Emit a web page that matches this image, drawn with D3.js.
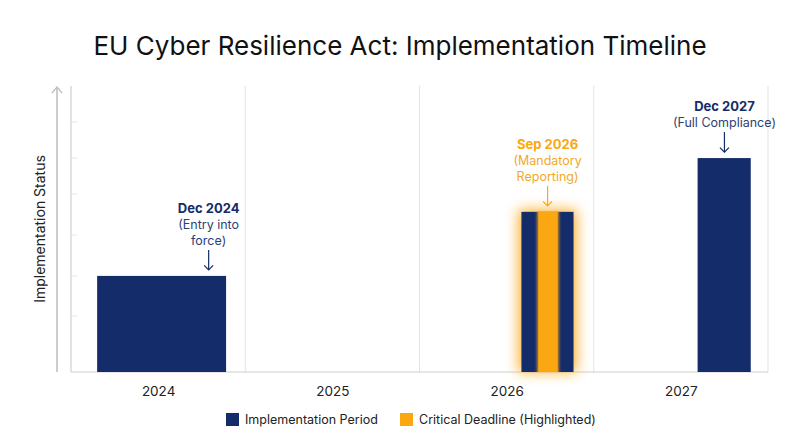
<!DOCTYPE html>
<meta charset="utf-8" />
<script src="https://d3js.org/d3.v7.min.js"></script>
<style>
	body { margin: 0; background: #fff; }
	text { font-family: Inter, "Noto Sans", sans-serif; }
</style>
<div id="chart"></div>
<script>
	// years shown on the x axis
	var years = [2024, 2025, 2026, 2027];
	// bars: start / end in fractional years, height in % of status
	var barNames = ["Dec 2024", "Sep 2026", "Dec 2027"];
	var barStart = [2024.15, 2026.585, 2027.596];
	var barEnd = [2024.89, 2026.884, 2027.901];
	var barValue = [33.6, 56, 74.8];
	var barMark = [2024.79, 2026.735, 2027.75]; // where the arrow points
	var barNotes = [["(Entry into", "force)"], ["(Mandatory", "Reporting)"], ["(Full Compliance)"]];
	var barCritical = [false, true, false];
	// highlighted critical slice inside the 2026 bar
	var critStart = 2026.677, critEnd = 2026.798;
	// faint ticks on the y axis
	var yTicks = [19.6, 33.6, 47.9, 62.2, 74.8, 87.4];

	var navy = "#142c69", orange = "#fba712";
	var W = 800, H = 447;
	var margin = { top: 86, right: 32, bottom: 75, left: 71 };
	var width = W - margin.left - margin.right,
		height = H - margin.top - margin.bottom;

	var svg = d3.select("#chart").append("svg")
		.attr("width", W).attr("height", H);

	var defs = svg.append("defs");
	var glow = defs.append("filter").attr("id", "glow")
		.attr("x", "-80%").attr("y", "-30%").attr("width", "260%").attr("height", "160%");
	glow.append("feGaussianBlur").attr("stdDeviation", 6.5);
	var soft = defs.append("filter").attr("id", "soft")
		.attr("x", "-50%").attr("y", "-5%").attr("width", "200%").attr("height", "110%");
	soft.append("feGaussianBlur").attr("stdDeviation", 1.6);
	defs.append("clipPath").attr("id", "barclip").append("rect");

	// title
	svg.append("text")
		.attr("x", W / 2).attr("y", 55)
		.attr("text-anchor", "middle")
		.attr("font-size", 26).attr("font-weight", 400)
		.attr("fill", "#111")
		.text("EU Cyber Resilience Act: Implementation Timeline");

	var g = svg.append("g")
		.attr("transform", "translate(" + margin.left + "," + margin.top + ")");

	var x = d3.scaleLinear().domain([2024, 2028]).range([0, width]);
	var y = d3.scaleLinear().domain([0, 100]).range([height, 0]);

	// vertical grid lines at year boundaries
	g.selectAll(".grid")
		.data([2025, 2026, 2027, 2028])
		.join("line")
		.attr("x1", d => x(d)).attr("x2", d => x(d))
		.attr("y1", 0).attr("y2", height)
		.attr("stroke", "#e3e3e3").attr("stroke-width", 1);

	// y axis ticks (faint, inside)
	g.selectAll(".ytick")
		.data(yTicks)
		.join("line")
		.attr("x1", 0).attr("x2", 6)
		.attr("y1", d => y(d)).attr("y2", d => y(d))
		.attr("stroke", "#e6e6e6");

	// left frame and baseline
	g.append("line").attr("x1", 0).attr("x2", 0).attr("y1", 0).attr("y2", height)
		.attr("stroke", "#cfcfcf").attr("stroke-width", 1.2);
	g.append("line").attr("x1", 0).attr("x2", width).attr("y1", height).attr("y2", height)
		.attr("stroke", "#cfcfcf").attr("stroke-width", 1.2);

	// x axis labels
	var xAxis = d3.axisBottom(x)
		.tickValues(years.map(d => d + 0.5))
		.tickFormat((d, i) => years[i])
		.tickSize(0).tickPadding(14);
	var xa = g.append("g").attr("transform", "translate(0," + height + ")").call(xAxis);
	xa.select(".domain").remove();
	xa.selectAll("text")
		.attr("font-family", "Inter, 'Noto Sans', sans-serif")
		.attr("font-size", 13.5).attr("fill", "#222");

	// separate y axis arrow
	var ax = -14;
	g.append("line").attr("x1", ax).attr("x2", ax).attr("y1", 2).attr("y2", height)
		.attr("stroke", "#bdbdbd").attr("stroke-width", 1.5);
	g.append("path")
		.attr("d", "M" + (ax - 5) + ",7 L" + ax + ",1 L" + (ax + 5) + ",7")
		.attr("fill", "none").attr("stroke", "#bdbdbd").attr("stroke-width", 1.2);

	svg.append("text")
		.attr("transform", "translate(45,229) rotate(-90)")
		.attr("text-anchor", "middle")
		.attr("font-size", 14).attr("fill", "#222")
		.text("Implementation Status");

	var bars = barNames.map((n, i) => ({
		name: n, start: barStart[i], end: barEnd[i], value: barValue[i],
		mark: barMark[i], notes: barNotes[i], critical: barCritical[i]
	}));

	// glow behind critical bar
	g.selectAll(".glow")
		.data(bars.filter(d => d.critical))
		.join("rect")
		.attr("x", d => x(d.start) - 3)
		.attr("y", d => y(d.value) - 2)
		.attr("width", d => x(d.end) - x(d.start) + 6)
		.attr("height", d => height - y(d.value) + 2)
		.attr("fill", orange).attr("opacity", 0.9)
		.attr("filter", "url(#glow)");

	g.selectAll(".bar")
		.data(bars)
		.join("rect")
		.attr("x", d => x(d.start))
		.attr("y", d => y(d.value))
		.attr("width", d => x(d.end) - x(d.start))
		.attr("height", d => height - y(d.value))
		.attr("fill", navy);

	// highlighted slice, softened and clipped to the bar
	var cb = bars.find(d => d.critical);
	defs.select("#barclip rect")
		.attr("x", x(cb.start)).attr("y", y(cb.value))
		.attr("width", x(cb.end) - x(cb.start)).attr("height", height - y(cb.value));
	g.append("g").attr("clip-path", "url(#barclip)")
		.append("rect")
		.attr("x", x(critStart)).attr("y", y(cb.value) - 4)
		.attr("width", x(critEnd) - x(critStart))
		.attr("height", height - y(cb.value) + 8)
		.attr("fill", orange)
		.attr("filter", "url(#soft)");
	g.append("rect")
		.attr("x", x(critStart) + 1).attr("y", y(cb.value))
		.attr("width", x(critEnd) - x(critStart) - 2)
		.attr("height", height - y(cb.value))
		.attr("fill", orange);

	// annotations with arrows
	var ann = g.selectAll(".ann")
		.data(bars)
		.join("g")
		.attr("transform", d => "translate(" + x(d.mark) + "," + y(d.value) + ")");

	ann.each(function (d) {
		var a = d3.select(this);
		var col = d.critical ? orange : navy;
		var noteCol = d.critical ? "#f3a826" : "#2d3f73";
		var n = d.notes.length;
		var lh = 16;
		var base = -31 - n * lh;
		a.append("text")
			.attr("y", base)
			.attr("text-anchor", "middle")
			.attr("font-size", 13).attr("font-weight", 700)
			.attr("fill", col)
			.text(d.name);
		d.notes.forEach(function (t, i) {
			a.append("text")
				.attr("y", base + (i + 1) * lh)
				.attr("text-anchor", "middle")
				.attr("font-size", 12.5)
				.attr("fill", noteCol)
				.text(t);
		});
		a.append("line")
			.attr("x1", 0).attr("x2", 0).attr("y1", -26).attr("y2", -6)
			.attr("stroke", col).attr("stroke-width", 1.2);
		a.append("path")
			.attr("d", "M-4.5,-10.5 L0,-6 L4.5,-10.5")
			.attr("fill", "none").attr("stroke", col).attr("stroke-width", 1.2);
	});

	// legend
	var legendItems = ["Implementation Period", "Critical Deadline (Highlighted)"];
	var legendColors = [navy, orange];
	var legendX = [226, 400];
	var lg = svg.append("g").attr("transform", "translate(0,413)");
	legendItems.forEach(function (t, i) {
		lg.append("rect")
			.attr("x", legendX[i]).attr("y", 0)
			.attr("width", 13).attr("height", 13)
			.attr("fill", legendColors[i]);
		lg.append("text")
			.attr("x", legendX[i] + 19).attr("y", 11)
			.attr("font-size", 12.5).attr("fill", "#222")
			.text(t);
	});
</script>
